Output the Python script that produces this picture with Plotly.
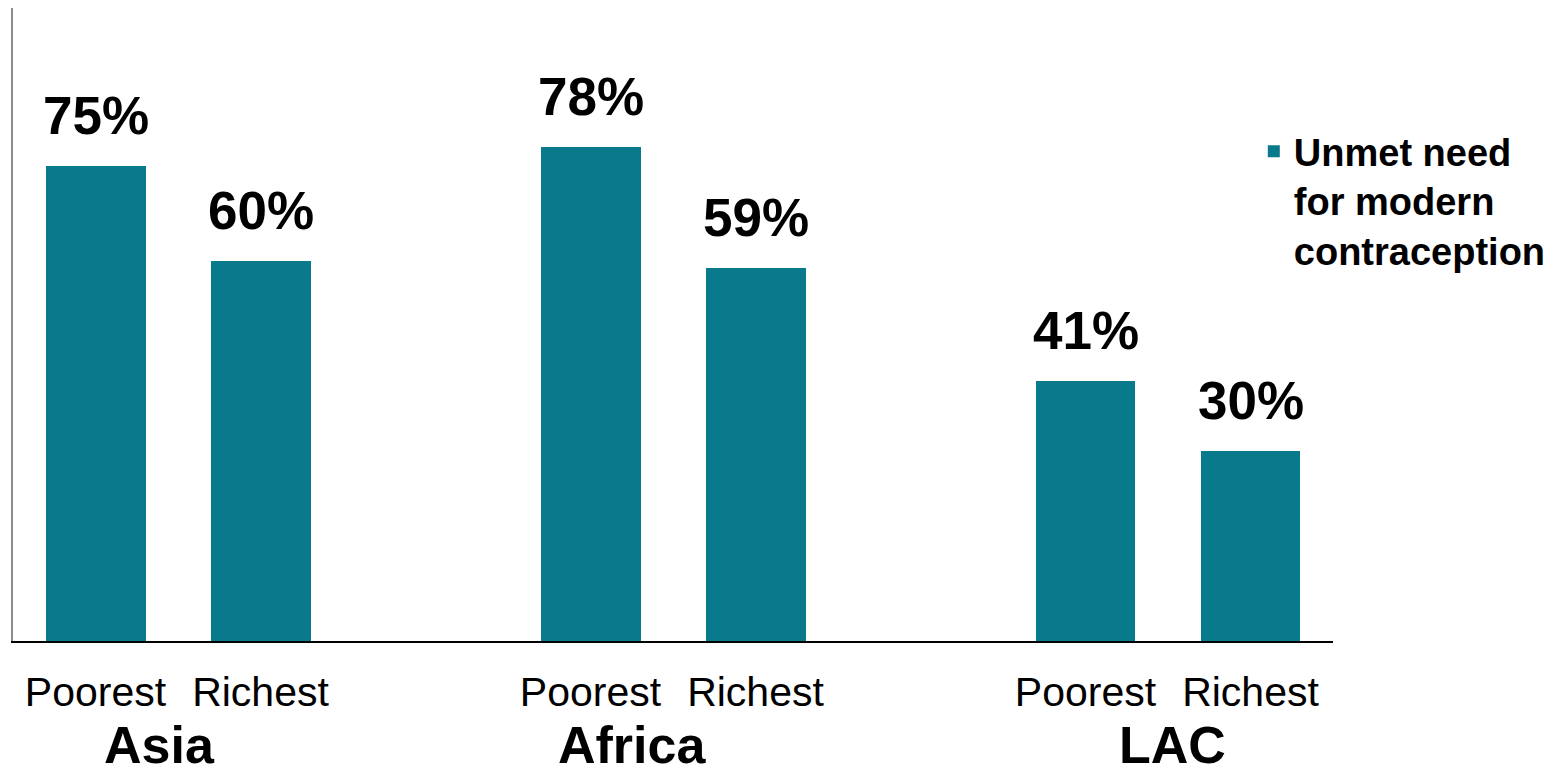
import plotly.graph_objects as go

# Unmet need for modern contraception, poorest vs richest quintile, by region
regions = ["Asia", "Africa", "LAC"]
quintiles = ["Poorest", "Richest"]
asia = [75, 60]
africa = [78, 59]
lac = [41, 30]

# numeric slots: two bars per region, one empty slot between regions
positions = [0, 1, 3, 4, 6, 7]
values = asia + africa + lac
tick_text = quintiles * 3
region_x = [0.39, 3.25, 6.53]

teal = "#087a8b"
font_family = "Arial, Liberation Sans, sans-serif"

fig = go.Figure()
fig.add_trace(go.Bar(
    x=positions,
    y=values,
    width=0.606,
    marker=dict(color=teal, line=dict(width=0)),
    name="Unmet need<br>for modern<br>contraception",
    showlegend=True,
))

# value labels above each bar
for xp, v in zip(positions, values):
    fig.add_annotation(
        x=xp, y=v, xref="x", yref="y",
        text=f"<b>{v}%</b>", showarrow=False,
        yanchor="bottom", yshift=19,
        font=dict(family=font_family, size=53, color="black"),
    )

# region names under the quintile labels, kept inside the bottom edge
for name, xp in zip(regions, region_x):
    fig.add_annotation(
        x=xp, y=-0.213, xref="x", yref="paper",
        text=f"<b>{name}</b>", showarrow=False,
        xanchor="center", yanchor="bottom",
        font=dict(family=font_family, size=52, color="black"),
    )

fig.update_layout(
    width=1566, height=778,
    margin=dict(l=13, r=233, t=8, b=137),
    paper_bgcolor="white", plot_bgcolor="white",
    font=dict(family=font_family, color="black"),
    bargap=0,
    legend=dict(
        x=0.940, y=0.823, xanchor="left", yanchor="top",
        valign="top",
        font=dict(family=font_family, size=38, color="black", weight="bold"),
        bgcolor="rgba(0,0,0,0)",
        tracegroupgap=0,
    ),
    xaxis=dict(
        range=[-0.5, 7.5],
        tickmode="array", tickvals=positions, ticktext=tick_text,
        tickfont=dict(family=font_family, size=41, color="black"),
        ticks="", showgrid=False, zeroline=False,
        showline=True, linecolor="black", linewidth=2,
        ticklabelstandoff=14,
    ),
    yaxis=dict(
        range=[0, 100],
        showticklabels=False, ticks="", showgrid=False, zeroline=False,
        showline=True, linecolor="#8c8c8c", linewidth=2,
    ),
)

fig.write_html("out.html")
